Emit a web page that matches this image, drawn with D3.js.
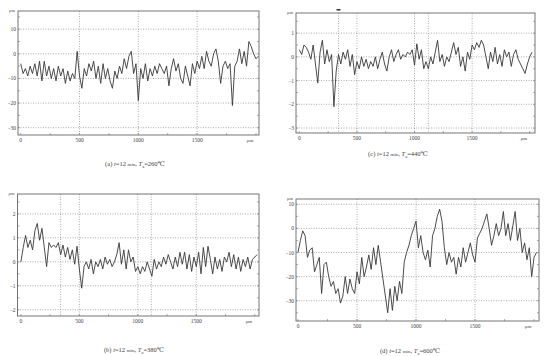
<!DOCTYPE html>
<html><head><meta charset="utf-8">
<script src="https://cdn.jsdelivr.net/npm/d3@7"></script>
<style>
html,body{margin:0;padding:0;background:#fff;}
svg{display:block;}
text{font-family:"Liberation Serif","DejaVu Serif",serif;fill:#444;}
</style></head>
<body><svg id="c" width="550" height="356"></svg>
<script>
// x positions in µm (sampling step 20 µm)
const xStep = 20;
// Panel (a) t=12 min, Ta=260℃  (µm)
const profileA = [-4,-8,-6,-9,-5,-8,-4,-9,-3,-11,-3,-9,-5,-10,-6,-11,-5,-9,-6,-12,-7,-11,-8,-10,1,-9,-14,-6,-9,-4,-7,-3,-10,-5,-12,-4,-10,-6,-11,-14,-7,-10,-5,-8,-2,-6,-1,1,-8,-4,-19,-6,-10,-4,-11,-6,-9,-5,-8,-4,-6,-8,-5,-13,-6,-2,-7,-4,-10,-12,-5,-9,-13,-4,-8,-3,-6,-1,-6,1,-3,-5,0,2,-3,-12,-5,-3,-6,-4,-21,-5,-3,2,-4,1,-5,5,3,0,-2,-1];
// Panel (c) t=12 min, Ta=440℃
const profileC = [0.3,0.1,0.5,0.4,0.2,-0.1,0.5,-0.3,-1.1,0.2,0.7,-0.3,0.3,-0.2,0.1,-2.1,-0.6,0.1,-0.3,0.2,-0.1,0.3,-0.4,0.1,-0.75,-0.2,-0.5,0.0,-0.4,-0.1,-0.5,-0.2,-0.4,0.0,-0.5,-0.1,0.2,-0.3,-0.6,0.0,0.3,-0.2,0.1,0.3,-0.1,0.1,0.0,0.2,0.1,0.3,-0.35,0.55,-0.1,0.3,-0.5,-0.2,-0.5,0.0,-0.3,0.2,0.7,-0.2,0.1,-0.4,0.0,-0.2,0.2,0.6,0.1,0.4,-0.4,0.0,-0.6,0.2,-0.1,0.5,0.3,0.6,0.4,0.7,0.5,0.0,-0.5,0.2,-0.2,0.4,-0.3,0.1,-0.4,0.3,0.0,0.2,-0.4,0.1,0.3,-0.1,-0.3,-0.5,-0.7,-0.3,0.0,0.2];
// Panel (b) t=12 min, Ta=380℃
const profileB = [0.0,0.6,1.1,0.6,0.9,0.5,1.3,1.6,0.9,1.4,0.6,-0.2,0.8,0.6,0.7,0.6,0.8,0.3,0.7,0.2,0.6,0.1,0.5,-0.1,0.65,-0.3,-1.1,-0.2,0.0,-0.3,0.1,-0.5,0.0,-0.2,0.1,-0.3,0.2,-0.1,0.1,-0.2,0.0,0.3,0.8,-0.1,0.5,-0.3,0.5,0.0,0.2,-0.4,-0.2,-0.5,-0.2,-0.4,0.0,-0.3,-0.6,0.1,-0.3,0.0,-0.2,0.2,-0.1,0.3,0.0,-0.3,0.2,-0.2,0.4,-0.1,0.4,-0.3,0.3,-0.4,0.2,-0.2,0.4,-0.5,0.6,-0.2,0.65,0.1,-0.5,0.2,-0.3,0.1,-0.4,0.2,0.0,0.4,-0.2,0.3,-0.3,0.2,-0.4,0.1,-0.2,0.2,-0.3,0.1,0.2,0.3];
// Panel (d) t=12 min, Ta=600℃
const profileD = [-10,-5,-1,-3,-12,-9,-8,-18,-15,-12,-27,-15,-14,-20,-24,-22,-27,-25,-31,-28,-20,-27,-21,-25,-27,-18,-23,-12,-20,-16,-11,-17,-8,-15,-7,-14,-21,-28,-35,-25,-34,-24,-30,-22,-27,-14,-10,-7,-3,0,3,-8,-3,-10,-13,-9,-16,-3,0,5,8,3,-8,-15,-10,-14,-12,-19,-12,-16,-8,-14,-10,-6,-11,-14,-4,-2,0,3,6,0,-7,-3,2,-3,0,7,-3,2,-5,1,7,-5,0,-10,-6,-13,-8,-20,-12,-10];

const xTicks = [0,500,1000,1500];
const yTicksA = [10,0,-10,-20,-30];
const yTicksC = [1,0,-1,-2,-3];
const yTicksB = [2,1,0,-1,-2];
const yTicksD = [10,0,-10,-20,-30];
const captionLabels = ["(a)","(c)","(b)","(d)"];
const captionTemps = ["260","440","380","600"];
const markersC = [340,1120];
const markersB = [340,1115];

const svg = d3.select("#c");

function panel(o){
  const g = svg.append("g");
  const x = d3.scaleLinear().domain(o.xd).range([o.l,o.r]);
  const y = d3.scaleLinear().domain(o.yd).range([o.b,o.t]);
  const minor = d3.range(Math.ceil(o.yd[0]/o.minorStep)*o.minorStep, o.yd[1], o.minorStep);
  g.selectAll(".mnl").data(minor).join("line")
    .attr("x1",o.l).attr("x2",o.l+2).attr("y1",d=>y(d)).attr("y2",d=>y(d))
    .attr("stroke","#777").attr("stroke-width",0.6);
  g.selectAll(".mnr").data(minor).join("line")
    .attr("x1",o.r).attr("x2",o.r-2).attr("y1",d=>y(d)).attr("y2",d=>y(d))
    .attr("stroke","#777").attr("stroke-width",0.6);
  const minorX = d3.range(0, o.xd[1], 250);
  g.selectAll(".mnx").data(minorX).join("line")
    .attr("x1",d=>x(d)).attr("x2",d=>x(d)).attr("y1",o.b).attr("y2",o.b-2)
    .attr("stroke","#777").attr("stroke-width",0.6);
  g.selectAll(".gy").data(o.yt).join("line")
    .attr("x1",o.l).attr("x2",o.r).attr("y1",d=>y(d)).attr("y2",d=>y(d))
    .attr("stroke","#888").attr("stroke-width",0.7).attr("stroke-dasharray","1,1.5");
  g.selectAll(".gx").data(xTicks.slice(1).concat(o.markers||[])).join("line")
    .attr("x1",d=>x(d)).attr("x2",d=>x(d)).attr("y1",o.t).attr("y2",o.b)
    .attr("stroke","#888").attr("stroke-width",0.7).attr("stroke-dasharray","1,1.5");
  g.append("rect").attr("x",o.l).attr("y",o.t).attr("width",o.r-o.l).attr("height",o.b-o.t)
    .attr("fill","none").attr("stroke","#666").attr("stroke-width",0.9);
  if(o.topMark){
    g.append("rect").attr("x",x(o.topMark)-2).attr("y",o.t-4).attr("width",4).attr("height",1.5).attr("fill","#333");
  }
  const line = d3.line().x((d,i)=>x(i*xStep)).y(d=>y(d));
  g.append("path").datum(o.data).attr("d",line)
    .attr("fill","none").attr("stroke","#383838").attr("stroke-width",0.9);
  g.selectAll(".yl").data(o.yt).join("text")
    .attr("x",o.l-2).attr("y",d=>y(d)+2).attr("text-anchor","end")
    .attr("font-size",5.5).text(d=>d<0?"\u2212"+Math.abs(d):d);
  g.selectAll(".xl").data(xTicks).join("text")
    .attr("x",d=>x(d)).attr("y",o.b+6.5).attr("text-anchor","middle")
    .attr("font-size",5.5).text(d=>d);
  g.append("text").attr("x",x(1950)).attr("y",o.b+6.5).attr("text-anchor","middle").attr("font-size",5).text("\u03bcm");
  g.append("text").attr("x",o.l-3).attr("y",o.t+1).attr("text-anchor","end").attr("font-size",4.5).text("\u03bcm");
  const cap = g.append("text").attr("x",o.cx).attr("y",o.cy).attr("text-anchor","middle").attr("font-size",6.5);
  cap.append("tspan").text(o.label+"  ");
  cap.append("tspan").attr("font-style","italic").text("t");
  cap.append("tspan").text("=12 ");
  cap.append("tspan").attr("font-size",5).text("min");
  cap.append("tspan").text(", ");
  cap.append("tspan").attr("font-style","italic").text("T");
  cap.append("tspan").attr("font-size",4.5).attr("dy",1.5).text("a");
  cap.append("tspan").attr("dy",-1.5).text("="+o.temp+"\u2103");
}

panel({l:18,r:259,t:11,b:135,xd:[-23,2026],yd:[-32.97,17.4],yt:yTicksA,minorStep:5,data:profileA,label:captionLabels[0],temp:captionTemps[0],cx:135,cy:166});
panel({l:296,r:535,t:13,b:133,xd:[-29,2046],yd:[-3.21,1.85],yt:yTicksC,minorStep:0.5,data:profileC,label:captionLabels[1],temp:captionTemps[1],cx:398,cy:156,markers:markersC,topMark:340});
panel({l:17.5,r:259,t:194,b:316,xd:[-29,2036],yd:[-2.26,2.83],yt:yTicksB,minorStep:0.5,data:profileB,label:captionLabels[2],temp:captionTemps[2],cx:134,cy:352,markers:markersB});
panel({l:296,r:539,t:199,b:321,xd:[-17,2042],yd:[-38.4,12.2],yt:yTicksD,minorStep:5,data:profileD,label:captionLabels[3],temp:captionTemps[3],cx:410,cy:353});
</script></body></html>
